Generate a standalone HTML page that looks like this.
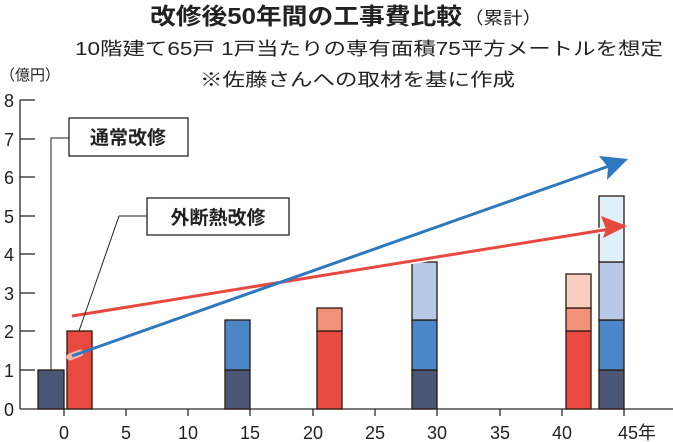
<!DOCTYPE html>
<html><head><meta charset="utf-8"><style>
body{margin:0;background:#fff;}
svg{display:block;font-family:"Liberation Sans","Noto Sans CJK JP",sans-serif;}
</style></head><body>
<svg width="673" height="442" viewBox="0 0 673 442">
<text x="150" y="24" font-size="23" font-weight="bold" fill="#222" textLength="312" lengthAdjust="spacingAndGlyphs">改修後50年間の工事費比較</text>
<text x="464" y="24" font-size="17" fill="#222" textLength="78" lengthAdjust="spacingAndGlyphs">（累計）</text>
<text x="75" y="55" font-size="18" fill="#222" textLength="588" lengthAdjust="spacingAndGlyphs">10階建て65戸 1戸当たりの専有面積75平方メートルを想定</text>
<text x="200" y="86" font-size="18" fill="#222" textLength="315" lengthAdjust="spacingAndGlyphs">※佐藤さんへの取材を基に作成</text>
<text x="0" y="80" font-size="15" fill="#222">（億円）</text>
<g font-size="18" fill="#222" text-anchor="middle">
<text x="9" y="107">8</text><text x="9" y="146">7</text><text x="9" y="184">6</text><text x="9" y="223">5</text><text x="9" y="261">4</text><text x="9" y="300">3</text><text x="9" y="338">2</text><text x="9" y="377">1</text><text x="9" y="416">0</text>
</g>
<g stroke="#2a2a2a" stroke-width="1.3" fill="none">
<line x1="20" y1="100" x2="20" y2="409"/>
<line x1="20" y1="409" x2="673" y2="409"/>
<line x1="20" y1="100" x2="35" y2="100"/><line x1="20" y1="139" x2="35" y2="139"/><line x1="20" y1="177" x2="35" y2="177"/><line x1="20" y1="216" x2="35" y2="216"/><line x1="20" y1="254" x2="35" y2="254"/><line x1="20" y1="293" x2="35" y2="293"/><line x1="20" y1="331" x2="35" y2="331"/><line x1="20" y1="370" x2="35" y2="370"/>
<line x1="64" y1="409" x2="64" y2="416"/><line x1="126" y1="409" x2="126" y2="416"/><line x1="188" y1="409" x2="188" y2="416"/><line x1="250" y1="409" x2="250" y2="416"/><line x1="313" y1="409" x2="313" y2="416"/><line x1="375" y1="409" x2="375" y2="416"/><line x1="437" y1="409" x2="437" y2="416"/><line x1="500" y1="409" x2="500" y2="416"/><line x1="562" y1="409" x2="562" y2="416"/><line x1="624" y1="409" x2="624" y2="416"/>
</g>
<g font-size="18" fill="#222" text-anchor="middle">
<text x="64" y="439">0</text><text x="126" y="439">5</text><text x="188" y="439">10</text><text x="250" y="439">15</text><text x="313" y="439">20</text><text x="375" y="439">25</text><text x="437" y="439">30</text><text x="500" y="439">35</text><text x="562" y="439">40</text><text x="637" y="439">45年</text>
</g>
<g stroke="#2a1a10" stroke-width="1.3">
<rect x="38" y="370" width="26" height="39" fill="#4a5676"/>
<rect x="67" y="331" width="25" height="78" fill="#e84a40"/>
<rect x="225" y="370" width="25" height="39" fill="#4a5676"/>
<rect x="225" y="320" width="25" height="50" fill="#4a86c8"/>
<rect x="317" y="331" width="25" height="78" fill="#e84a40"/>
<rect x="317" y="308" width="25" height="23" fill="#f0917a"/>
<rect x="412" y="370" width="25" height="39" fill="#4a5676"/>
<rect x="412" y="320" width="25" height="50" fill="#4a86c8"/>
<rect x="412" y="262" width="25" height="58" fill="#b7c9e6"/>
<rect x="566" y="331" width="25" height="78" fill="#e84a40"/>
<rect x="566" y="308" width="25" height="23" fill="#f0917a"/>
<rect x="566" y="274" width="25" height="34" fill="#f9cfc4"/>
<rect x="599" y="370" width="25" height="39" fill="#4a5676"/>
<rect x="599" y="320" width="25" height="50" fill="#4a86c8"/>
<rect x="599" y="262" width="25" height="58" fill="#b7c9e6"/>
<rect x="599" y="196" width="25" height="66" fill="#dff0fa"/>
</g>
<line x1="72" y1="316" x2="610" y2="229" stroke="#fff" stroke-width="6"/>
<line x1="72" y1="316" x2="610" y2="229" stroke="#e8493e" stroke-width="3"/>
<polygon points="627,226 601,216 606,229 603,238" fill="#e8493e"/>
<line x1="70" y1="357" x2="80" y2="353" stroke="#f3b5aa" stroke-width="7" stroke-linecap="round"/>
<line x1="72" y1="356" x2="612" y2="165" stroke="#2f78c0" stroke-width="3"/>
<polygon points="628,159 599,156 608,167 607,180" fill="#2f78c0"/>
<g stroke="#222" stroke-width="1" fill="none">
<polyline points="69,138 51,138 51,370"/>
<polyline points="147,216 119,216 79,331"/>
</g>
<rect x="69" y="118" width="119" height="38" fill="#fff" stroke="#222" stroke-width="1.3"/>
<text x="128" y="144" text-anchor="middle" font-size="19" font-weight="bold" fill="#222">通常改修</text>
<rect x="147" y="198" width="142" height="37" fill="#fff" stroke="#222" stroke-width="1.3"/>
<text x="218" y="224" text-anchor="middle" font-size="19" font-weight="bold" fill="#222">外断熱改修</text>
</svg>
</body></html>
